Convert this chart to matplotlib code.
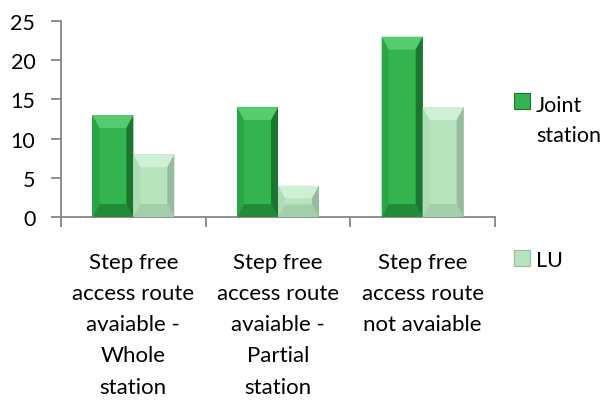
import matplotlib.pyplot as plt
from matplotlib.patches import Polygon, Rectangle

categories = ['Step free\naccess route\navaiable -\nWhole\nstation',
              'Step free\naccess route\navaiable -\nPartial\nstation',
              'Step free\naccess route\nnot avaiable']
joint = [13, 14, 23]
lu = [8, 4, 14]
series_names = ['Joint\nstation', 'LU']

plt.rcParams['font.family'] = ['Lato', 'DejaVu Sans']
plt.rcParams['font.size'] = 16

W, H = 611, 402
fig = plt.figure(figsize=(W / 100, H / 100), dpi=100)
ax = fig.add_axes([61 / W, 1 - 218 / H, (495 - 61) / W, (218 - 22) / H])

w = 0.283
x = list(range(len(categories)))

# colours: face, top bevel, left, right, bottom
green = ['#33b44f', '#55cd6f', '#2aa545', '#1b7530', '#218c38']
light = ['#b5e4bd', '#d0f0d6', '#aedcb6', '#98baa0', '#a3cfab']


def bevel_bars(xs, vals, cols):
    face, top, left, right, bottom = cols
    bars = ax.bar(xs, vals, width=w, color=face, linewidth=0, zorder=2)
    for b in bars:
        x0, y0 = b.get_x(), b.get_y()
        bw, bh = b.get_width(), b.get_height()
        dx = 0.048
        dy = min(1.65, bh * 0.4)
        x1, y1 = x0 + bw, y0 + bh
        ax.add_patch(Polygon([[x0, y1], [x1, y1], [x1 - dx, y1 - dy], [x0 + dx, y1 - dy]],
                             closed=True, color=top, lw=0, zorder=3))
        ax.add_patch(Polygon([[x0, y0], [x1, y0], [x1 - dx, y0 + dy], [x0 + dx, y0 + dy]],
                             closed=True, color=bottom, lw=0, zorder=3))
        ax.add_patch(Polygon([[x1, y0], [x1, y1], [x1 - dx, y1 - dy], [x1 - dx, y0 + dy]],
                             closed=True, color=right, lw=0, zorder=3))
        ax.add_patch(Polygon([[x0, y0], [x0, y1], [x0 + dx, y1 - dy], [x0 + dx, y0 + dy]],
                             closed=True, color=left, lw=0, zorder=3))
    return bars


bevel_bars([i - w / 2 for i in x], joint, green)
bevel_bars([i + w / 2 for i in x], lu, light)

ax.set_xlim(-0.5, 2.5)
ax.set_ylim(0, 25)
ax.set_yticks([0, 5, 10, 15, 20, 25])
ax.set_xticks([-0.5, 0.5, 1.5, 2.5])
ax.set_xticklabels([])
ax.set_xticks(x, minor=True)
ax.set_xticklabels(categories, minor=True, linespacing=1.7)
ax.tick_params(axis='x', which='minor', length=0, pad=25)
ax.tick_params(axis='both', which='major', length=7, color='#868686', width=1.3)
ax.tick_params(axis='y', pad=11.5, labelsize=15.5)
for s in ['top', 'right']:
    ax.spines[s].set_visible(False)
for s in ['left', 'bottom']:
    ax.spines[s].set_color('#868686')
    ax.spines[s].set_linewidth(1.3)

# legend, drawn by hand so the marker sits on the first text line
# (marker centre y, baseline y of the last text line), in pixels from the top
legend_rows = [(102, 142), (259, 267)]
for (cy, base), name, cols in zip(legend_rows, series_names, [green, light]):
    fig.add_artist(Rectangle((514 / W, 1 - (cy + 8) / H), 16 / W, 16 / H,
                             transform=fig.transFigure, facecolor=cols[0],
                             edgecolor=cols[3], linewidth=0.8))
    fig.text(536 / W, 1 - base / H, name, ha='left', va='baseline',
             fontsize=15.5, linespacing=1.6)

fig.savefig('out.png', dpi=100)
